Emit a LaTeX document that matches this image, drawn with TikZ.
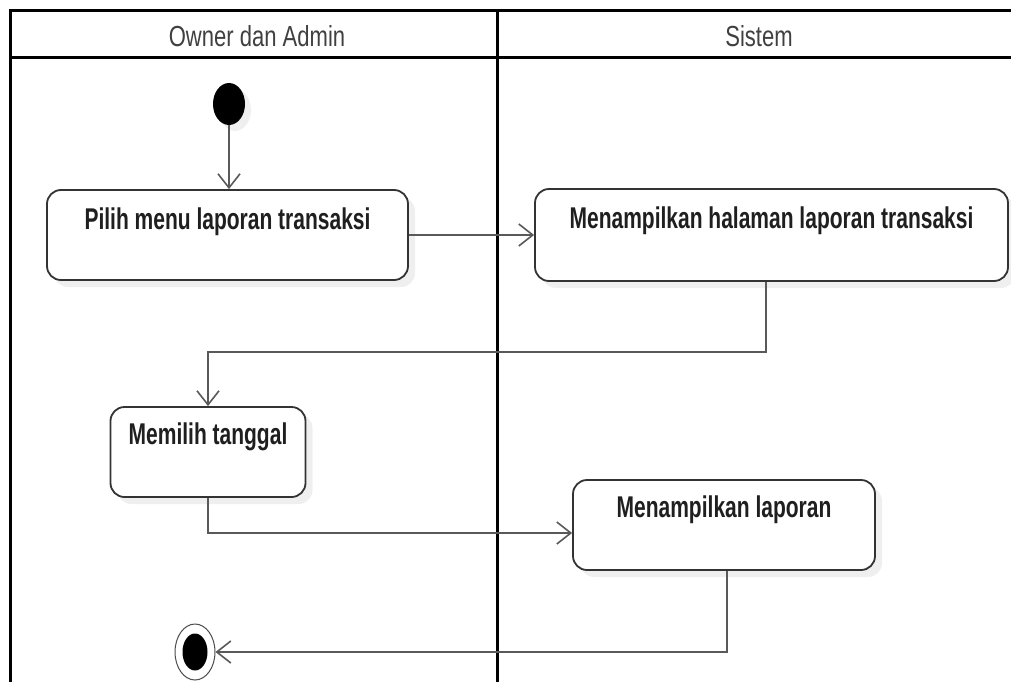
\documentclass[tikz,border=0pt]{standalone}
\usepackage{fontspec}
\setmainfont{Liberation Sans}
\newfontfamily\narrowfont[FakeStretch=0.70]{Liberation Sans}
\newfontfamily\headfont[FakeStretch=0.76]{Liberation Sans}
\usetikzlibrary{arrows.meta,shadows,shapes.geometric}
\begin{document}
\begin{tikzpicture}[x=1pt,y=-1pt,
  lane/.style={draw=black, line width=3pt},
  headtxt/.style={font=\headfont\fontsize{29}{33}\selectfont, text=black!75},
  act/.style={draw=black!80, line width=1.8pt, rounded corners=14pt, fill=white,
    inner sep=0pt, drop shadow={opacity=0.12, shadow xshift=7pt, shadow yshift=-7pt}},
  lbl/.style={font=\narrowfont\bfseries\fontsize{30}{34}\selectfont, text=black!88, anchor=base, inner sep=0pt},
  flow/.style={draw=black!65, line width=2.2pt,
    -{Straight Barb[length=14pt,width=22pt,line width=1.6pt]}},
  startnode/.style={ellipse, fill=black, inner sep=0pt, minimum width=32pt, minimum height=42pt,
    drop shadow={opacity=0.12, shadow xshift=6pt, shadow yshift=-6pt}},
  endouter/.style={ellipse, draw=black!70, line width=1pt, fill=white, inner sep=0pt,
    minimum width=40pt, minimum height=56pt},
  endinner/.style={ellipse, fill=black, inner sep=0pt, minimum width=25pt, minimum height=37pt}
]
\useasboundingbox[fill=white] (0,0) rectangle (1011,682);

% swimlanes
\coordinate (tl) at (10,11);
\coordinate (tr) at (1011,11);
\coordinate (hl) at (10,58);
\coordinate (hr) at (1011,58);
\coordinate (bl) at (10,682);
\coordinate (dt) at (497,11);
\coordinate (db) at (497,682);
\draw[lane] (tr) -- (tl) -- (bl);
\draw[lane] (hl) -- (hr);
\draw[lane] (dt) -- (db);
\node[headtxt] (h1) at (257,36) {Owner dan Admin};
\node[headtxt] (h2) at (759,36) {Sistem};

% nodes
\node[startnode] (start) at (229,104) {};
\node[act, minimum width=361pt, minimum height=90pt,
  label={[lbl, yshift=-40pt]north:Pilih menu laporan transaksi}] (a1) at (227.5,235) {};
\node[act, minimum width=473pt, minimum height=92pt,
  label={[lbl, yshift=-40pt]north:Menampilkan halaman laporan transaksi}] (a2) at (771.5,235) {};
\node[act, minimum width=195pt, minimum height=90pt,
  label={[lbl, yshift=-38pt]north:Memilih tanggal}] (a3) at (208,452) {};
\node[act, minimum width=302pt, minimum height=90pt,
  label={[lbl, yshift=-38pt]north:Menampilkan laporan}] (a4) at (724,525) {};
\node[endouter] (end) at (195,652) {};
\node[endinner] (endin) at (end.center) {};

% connectors
\coordinate (k1) at (766,352);
\draw[flow] (start) -- (start |- a1.north);
\draw[flow] (a1) -- (a2);
\draw[flow] (a2.south -| k1) -- (k1) -| (a3.north);
\draw[flow] (a3.south) |- ([yshift=-8pt]a4.west);
\draw[flow] ([xshift=3pt]a4.south) |- (end);
\end{tikzpicture}
\end{document}
